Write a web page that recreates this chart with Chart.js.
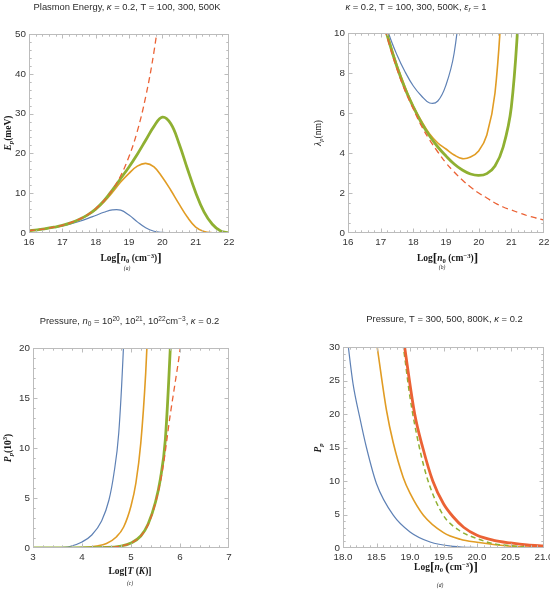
<!DOCTYPE html>
<html>
<head>
<meta charset="utf-8">
<script src="https://cdn.jsdelivr.net/npm/chart.js@4.4.1/dist/chart.umd.min.js"></script>
<style>
  html, body { margin: 0; padding: 0; background: #fff; }
  #wrap { position: relative; width: 550px; height: 591px; }
  canvas { position: absolute; }
</style>
</head>
<body>
<div id="wrap">
  <canvas id="panelA" width="275" height="290" style="left:0;top:0"></canvas>
  <canvas id="panelB" width="275" height="290" style="left:275px;top:0"></canvas>
  <canvas id="panelC" width="275" height="301" style="left:0;top:290px"></canvas>
  <canvas id="panelD" width="275" height="301" style="left:275px;top:290px"></canvas>
</div>
<script>
// (a) plasmon energy vs Log[n0], T = 100, 300, 500K + limit (dashed)
const logN = [16, 16.25, 16.5, 16.75, 17, 17.25, 17.5, 17.75, 18, 18.25, 18.5, 18.75, 19,
              19.25, 19.5, 19.75, 20, 20.25, 20.5, 20.75, 21, 21.25, 21.5, 21.75, 22];
const energy100 = [0.6, 0.8, 1.05, 1.4, 1.8, 2.3, 2.9, 3.6, 4.4, 5.2, 5.8, 5.75, 4.5,
                   2.8, 1.3, 0.45, 0.15, 0.05, 0, 0, 0, 0, 0, 0, 0];
const energy300 = [0.6, 0.8, 1.1, 1.45, 1.9, 2.55, 3.35, 4.45, 5.9, 7.8, 10.2, 12.8, 15.0,
                   16.8, 17.5, 16.6, 14.0, 10.8, 7.3, 4.0, 1.5, 0.4, 0.05, 0, 0];
const energy500 = [0.6, 0.8, 1.1, 1.45, 1.9, 2.55, 3.4, 4.5, 6.0, 8.1, 10.8, 13.7, 16.6,
                   19.8, 23.3, 26.8, 29.1, 27.5, 22.5, 16.2, 10.2, 5.3, 2.2, 0.5, 0.05];
const energyLimit = [0.6, 0.8, 1.08, 1.45, 1.93, 2.6, 3.42, 4.6, 6.1, 8.1, 10.8, 14.4, 19.2,
                     25.6, 34.2, 45.6, 60.8];

// (b) plasmon wavelength vs Log[n0]
const lambda100 = [20, 17.5, 15.2, 13.2, 11.4, 9.95, 8.9, 8.05, 7.35, 6.85, 6.5, 6.6, 7.4,
                   9.0, 12.5];
const lambda300 = [19.6, 17.1, 14.8, 12.8, 11.2, 9.7, 8.4, 7.3, 6.35, 5.6, 4.95, 4.5, 4.2,
                   3.9, 3.72, 3.8, 4.1, 4.9, 7.0, 12.5];
const lambda500 = [19.5, 17.0, 14.7, 12.7, 11.1, 9.6, 8.3, 7.2, 6.3, 5.5, 4.85, 4.3, 3.85,
                   3.45, 3.15, 2.95, 2.88, 2.97, 3.35, 4.3, 6.3, 11.5];
const lambdaLimit = [19.5, 16.9, 14.6, 12.6, 11.0, 9.5, 8.2, 7.1, 6.2, 5.35, 4.65, 4.05, 3.5,
                     3.05, 2.65, 2.3, 2.0, 1.75, 1.5, 1.3, 1.15, 1.0, 0.86, 0.75, 0.65];

// (c) pressure vs Log[T], n0 = 1e20, 1e21, 1e22 + limit
const logT20 = [3, 3.5, 3.75, 4.0, 4.2, 4.4, 4.55, 4.65, 4.75, 4.85, 4.95];
const press20 = [0, 0.03, 0.15, 0.6, 1.3, 2.7, 4.8, 7.4, 11.5, 20.5, 34];
const logT21 = [3, 4.0, 4.3, 4.5, 4.7, 4.85, 5.0, 5.1, 5.2, 5.3, 5.4];
const press21 = [0, 0.05, 0.2, 0.45, 1.1, 2.1, 4.2, 6.5, 10.5, 17.5, 28];
const logT22 = [3, 4.5, 4.8, 5.0, 5.2, 5.35, 5.5, 5.6, 5.7, 5.8, 5.9];
const press22 = [0, 0.05, 0.2, 0.5, 1.2, 2.4, 4.6, 6.9, 10.8, 19.8, 32];
const logTLimit = [3, 4.5, 4.8, 5.0, 5.2, 5.35, 5.5, 5.65, 5.8, 5.9, 6.0, 6.1];
const pressLimit = [0, 0.05, 0.2, 0.5, 1.2, 2.35, 4.5, 8.0, 13.3, 16.5, 19.8, 24];

// (d) pressure vs Log[n0], T = 300, 500, 800K
const logN300 = [18.0, 18.08, 18.15, 18.25, 18.35, 18.5, 18.75, 19.0, 19.3, 19.65, 20.0, 20.5, 21.0];
const press300 = [37, 30, 24.5, 19.5, 15, 9.6, 4.9, 2.4, 0.9, 0.25, 0.07, 0.01, 0];
const logN500 = [18.45, 18.51, 18.65, 18.75, 18.9, 19.0, 19.2, 19.5, 19.75, 20.0, 20.5, 21.0];
const press500 = [34, 30, 20.5, 15.7, 10.5, 8.2, 4.9, 2.3, 1.3, 0.85, 0.25, 0.07];
const logN800dash = [18.85, 18.9, 19.0, 19.14, 19.27, 19.49, 19.74, 20.0, 20.25, 20.5, 20.75, 21.0];
const press800dash = [33, 30, 22.5, 15, 10, 5, 2.6, 1.4, 0.65, 0.35, 0.15, 0.07];
const logN800 = [18.85, 18.92, 19.07, 19.19, 19.34, 19.5, 19.64, 19.8, 20.0, 20.25, 20.5, 20.75, 21.0];
const press800 = [35, 30, 20, 15, 10, 6.6, 4.7, 3.1, 1.9, 1.15, 0.75, 0.45, 0.3];

const BLUE = '#5e81b5', ORANGE = '#e19c24', GREEN = '#8fb032', RED = '#eb6235';
const SANS = '"Liberation Sans", Arial, sans-serif';
const SERIF = '"Liberation Serif", "Times New Roman", serif';

// текст с индексами: [строка, флаги] — b жирный, i курсив, _ нижний, ^ верхний, L большие скобки
function richFont(flags, size, family) {
  const small = flags.includes('_') || flags.includes('^');
  const s = small ? size * 0.7 : flags.includes('L') ? size * 1.4 : size;
  return (flags.includes('i') ? 'italic ' : '') + (flags.includes('b') ? 'bold ' : '') +
         s.toFixed(2) + 'px ' + family;
}

function drawRich(ctx, t) {
  ctx.save();
  ctx.translate(t.x, t.y);
  if (t.rotate) ctx.rotate(-Math.PI / 2);
  ctx.fillStyle = t.color || '#222';
  ctx.textBaseline = 'alphabetic';
  ctx.textAlign = 'left';
  let w = 0;
  t.parts.forEach(([s, f]) => { ctx.font = richFont(f, t.size, t.family); w += ctx.measureText(s).width; });
  let cx = -w / 2;
  t.parts.forEach(([s, f]) => {
    ctx.font = richFont(f, t.size, t.family);
    let dy = t.size * 0.35;
    if (f.includes('_')) dy += t.size * 0.22;
    if (f.includes('^')) dy -= t.size * 0.38;
    if (f.includes('L')) dy += t.size * 0.12;
    ctx.fillText(s, cx, dy);
    cx += ctx.measureText(s).width;
  });
  ctx.restore();
}

// рамка с внутренними засечками на всех четырёх сторонах + подписи
function framePlugin(minorX, minorY, texts) {
  return {
    id: 'frame',
    afterDraw(chart) {
      const { ctx, chartArea: a } = chart;
      const L = Math.round(a.left) + 0.5, R = Math.round(a.right) - 0.5;
      const T = Math.round(a.top) + 0.5, B = Math.round(a.bottom) - 0.5;
      ctx.save();
      ctx.strokeStyle = '#bcbcbc';
      ctx.lineWidth = 1;
      ctx.strokeRect(L, T, R - L, B - T);
      ctx.beginPath();
      const marks = (scale, minor, horiz) => {
        const major = scale.options.ticks.stepSize;
        const n = Math.round((scale.max - scale.min) / minor);
        for (let i = 1; i < n; i++) {
          const v = scale.min + i * minor;
          const q = v / major;
          const len = Math.abs(q - Math.round(q)) < 1e-6 ? 4 : 2.2;
          const p = Math.round(scale.getPixelForValue(v)) + 0.5;
          if (horiz) {
            ctx.moveTo(p, B); ctx.lineTo(p, B - len);
            ctx.moveTo(p, T); ctx.lineTo(p, T + len);
          } else {
            ctx.moveTo(L, p); ctx.lineTo(L + len, p);
            ctx.moveTo(R, p); ctx.lineTo(R - len, p);
          }
        }
      };
      marks(chart.scales.x, minorX, true);
      marks(chart.scales.y, minorY, false);
      ctx.stroke();
      ctx.restore();
      texts.forEach(t => drawRich(ctx, t));
    }
  };
}

// smooth = true: кривая Безье (для горбов), иначе монотонная
function curve(xs, ys, color, width, dash, order, smooth) {
  return {
    data: ys.map((v, i) => ({ x: xs[i], y: v })),
    borderColor: color,
    borderWidth: width,
    borderDash: dash || [],
    borderCapStyle: 'butt',
    pointRadius: 0,
    fill: false,
    cubicInterpolationMode: smooth ? 'default' : 'monotone',
    tension: 0.4,
    order: order
  };
}

function axis(min, max, step, size, horiz, fmt) {
  return {
    type: 'linear',
    min: min,
    max: max,
    grid: { display: false, drawTicks: false },
    border: { display: false },
    ticks: {
      stepSize: step,
      autoSkip: false,
      maxRotation: 0,
      padding: 3,
      color: '#333',
      font: { family: SANS, size: 9.8 },
      callback: fmt || (v => v)
    },
    afterFit(s) {
      if (horiz) s.height = size; else s.width = size;
      s.paddingLeft = s.paddingRight = s.paddingTop = s.paddingBottom = 0;
    }
  };
}

function panel(id, box, xAxis, yAxis, datasets, minorX, minorY, texts) {
  const canvas = document.getElementById(id);
  return new Chart(canvas, {
    type: 'line',
    data: { datasets: datasets },
    options: {
      responsive: false,
      animation: false,
      events: [],
      layout: {
        padding: { left: 0, top: box.top, right: canvas.width - box.right,
                   bottom: canvas.height - box.bottom - 16 }
      },
      plugins: { legend: { display: false }, tooltip: { enabled: false } },
      scales: {
        x: axis(xAxis[0], xAxis[1], xAxis[2], 16, true, xAxis[3]),
        y: axis(yAxis[0], yAxis[1], yAxis[2], box.left, false)
      }
    },
    plugins: [framePlugin(minorX, minorY, texts)]
  });
}

function title(parts, x, y) {
  return { parts, x, y, size: 9.4, family: SANS, color: '#2a2a2a' };
}
function xTitle(parts, x, y) {
  return { parts, x, y, size: 9.5, family: SERIF, color: '#1a1a1a' };
}
function yTitle(parts, x, y) {
  return { parts, x, y, size: 9.5, family: SERIF, color: '#1a1a1a', rotate: true };
}
function caption(text, x, y) {
  return { parts: [[text, 'i']], x, y, size: 5.5, family: SERIF, color: '#222' };
}

const logN0Label = [['Log', 'b'], ['[', 'bL'], ['n', 'bi'], ['0', 'b_'], [' (', 'b'], ['cm', 'b'],
                    ['\u22123', 'b^'], [')', 'b'], [']', 'bL']];

panel('panelA', { left: 29, top: 34, right: 229, bottom: 233 },
  [16, 22, 1], [0, 50, 10],
  [
    curve(logN, energy100, BLUE, 1.2, null, 4, true),
    curve(logN, energy300, ORANGE, 1.6, null, 3, true),
    curve(logN, energy500, GREEN, 2.8, null, 2, true),
    curve(logN, energyLimit, RED, 1.3, [6, 4], 1, true)
  ], 0.2, 2,
  [
    title([['Plasmon Energy, ', ''], ['\u03ba', 'i'], [' = 0.2, T = 100, 300, 500K', '']], 127, 6.5),
    xTitle(logN0Label, 131, 258),
    caption('(a)', 127, 268),
    yTitle([['E', 'bi'], ['p', 'bi_'], ['(meV)', 'b']], 7.5, 133)
  ]);

panel('panelB', { left: 73, top: 33, right: 269, bottom: 233 },
  [16, 22, 1], [0, 10, 2],
  [
    curve(logN, lambda100, BLUE, 1.2, null, 4, true),
    curve(logN, lambda300, ORANGE, 1.6, null, 3, true),
    curve(logN, lambda500, GREEN, 2.8, null, 2, true),
    curve(logN, lambdaLimit, RED, 1.3, [6, 4], 1, true)
  ], 0.2, 0.5,
  [
    title([['\u03ba', 'i'], [' = 0.2, T = 100, 300, 500K, ', ''], ['\u03b5', 'i'], ['r', 'i_'], [' = 1', '']], 141, 6.5),
    xTitle(logN0Label, 172.5, 258),
    caption('(b)', 167, 267),
    yTitle([['\u03bb', 'i'], ['p', 'i_'], ['(nm)', '']], 43, 133)
  ]);

panel('panelC', { left: 33, top: 58, right: 229, bottom: 258 },
  [3, 7, 1], [0, 20, 5],
  [
    curve(logT20, press20, BLUE, 1.2, null, 4),
    curve(logT21, press21, ORANGE, 1.6, null, 3),
    curve(logT22, press22, GREEN, 2.8, null, 2),
    curve(logTLimit, pressLimit, RED, 1.3, [6, 4], 1)
  ], 0.2, 1,
  [
    title([['Pressure, ', ''], ['n', 'i'], ['0', '_'], [' = 10', ''], ['20', '^'], [', 10', ''], ['21', '^'],
           [', 10', ''], ['22', '^'], ['cm', ''], ['\u22123', '^'], [', ', ''], ['\u03ba', 'i'], [' = 0.2', '']], 129.5, 31),
    xTitle([['Log', 'b'], ['[', 'b'], ['T', 'bi'], [' (', 'b'], ['K', 'bi'], [')]', 'b']], 130, 281),
    caption('(c)', 130, 293),
    yTitle([['P', 'bi'], ['p', 'bi_'], ['(10', 'b'], ['3', 'b^'], [')', 'b']], 7.5, 158)
  ]);

panel('panelD', { left: 68, top: 57, right: 269, bottom: 258 },
  [18, 21, 0.5, v => v.toFixed(1)], [0, 30, 5],
  [
    curve(logN300, press300, BLUE, 1.2, null, 4),
    curve(logN500, press500, ORANGE, 1.6, null, 3),
    curve(logN800dash, press800dash, GREEN, 1.5, [5, 3.5], 2),
    curve(logN800, press800, RED, 2.8, null, 1)
  ], 0.1, 1,
  [
    title([['Pressure, T = 300, 500, 800K, ', ''], ['\u03ba', 'i'], [' = 0.2', '']], 169.5, 29),
    xTitle([['Log', 'b'], ['[', 'bL'], ['n', 'bi'], ['0', 'b_'], [' ', 'b'], ['(', 'bL'], ['cm', 'b'],
            ['\u22123', 'b^'], [')', 'bL'], [']', 'bL']], 171, 277),
    caption('(d)', 165, 295),
    yTitle([['P', 'bi'], ['p', 'bi_']], 43, 158)
  ]);
</script>
</body>
</html>
